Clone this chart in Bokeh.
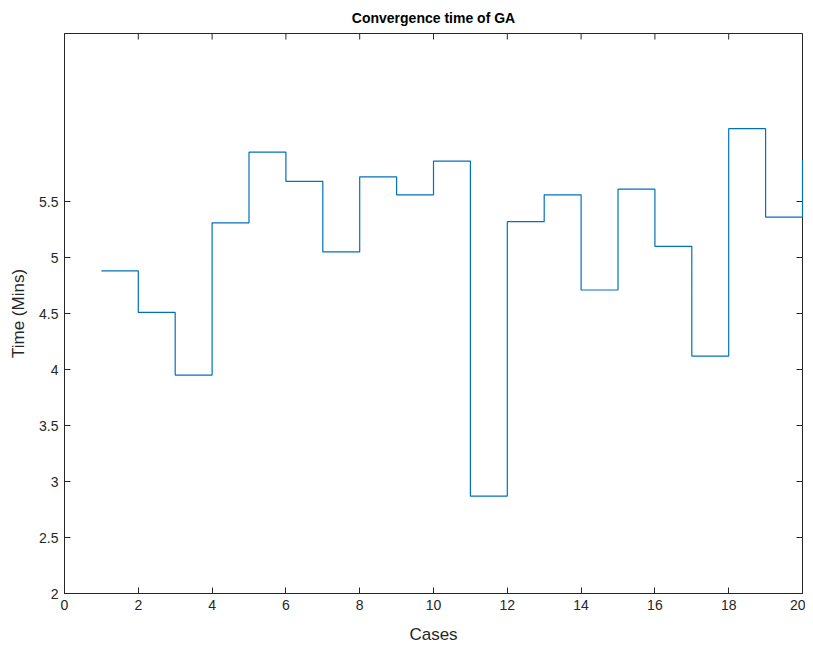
import math
from bokeh.plotting import figure
from bokeh.models import FixedTicker, Range1d
from bokeh.embed import file_html
from bokeh.resources import INLINE

cases = list(range(1, 21))
times = [4.88, 4.51, 3.95, 5.31, 5.94, 5.68, 5.05, 5.72, 5.56, 5.86,
         2.87, 5.32, 5.56, 4.71, 5.61, 5.10, 4.12, 6.15, 5.36, 5.87]
x_ticks = list(range(0, 21, 2))
y_ticks = [2, 2.5, 3, 3.5, 4, 4.5, 5, 5.5]
x_max = 20
y_max = 7

FONT = "Liberation Sans"
DARK = "#262626"

p = figure(width=805, height=646, output_backend="svg", toolbar_location=None,
           x_range=Range1d(0, x_max), y_range=Range1d(2, y_max),
           min_border_left=64, min_border_right=3, min_border_top=12, min_border_bottom=6)
p.step(cases, times, mode="after", line_color="#0072BD", line_width=1.2, level="overlay")

# mirrored inner ticks on top and right edges of the box
p.ray(x=x_ticks, y=[y_max] * len(x_ticks), length=6, length_units="screen",
      angle=-math.pi / 2, line_color=DARK, line_width=1)
p.ray(x=[x_max] * len(y_ticks), y=y_ticks, length=6, length_units="screen",
      angle=math.pi, line_color=DARK, line_width=1)

p.title.text = "Convergence time of GA"
p.title.align = "center"
p.title.text_font = FONT
p.title.text_font_size = "14px"
p.title.text_font_style = "bold"
p.title.text_color = "black"
p.title.standoff = 15

p.xgrid.visible = False
p.ygrid.visible = False
p.outline_line_color = DARK
p.outline_line_alpha = 1.0

for ax in (p.xaxis[0], p.yaxis[0]):
    ax.axis_line_color = DARK
    ax.major_tick_line_color = DARK
    ax.minor_tick_line_color = None
    ax.major_tick_in = 6
    ax.major_tick_out = 0
    ax.major_label_text_font = FONT
    ax.major_label_text_font_size = "14px"
    ax.major_label_text_color = DARK
    ax.axis_label_text_font = FONT
    ax.axis_label_text_font_size = "17px"
    ax.axis_label_text_font_style = "normal"
    ax.axis_label_text_color = DARK
    ax.major_label_standoff = 6

p.xaxis.ticker = FixedTicker(ticks=x_ticks)
p.yaxis.ticker = FixedTicker(ticks=y_ticks)
p.xaxis.axis_label = "Cases"
p.yaxis.axis_label = "Time (Mins)"
p.yaxis[0].axis_label_standoff = 8
p.xaxis[0].axis_label_standoff = 12

open("out.html", "w").write(file_html(p, INLINE))
